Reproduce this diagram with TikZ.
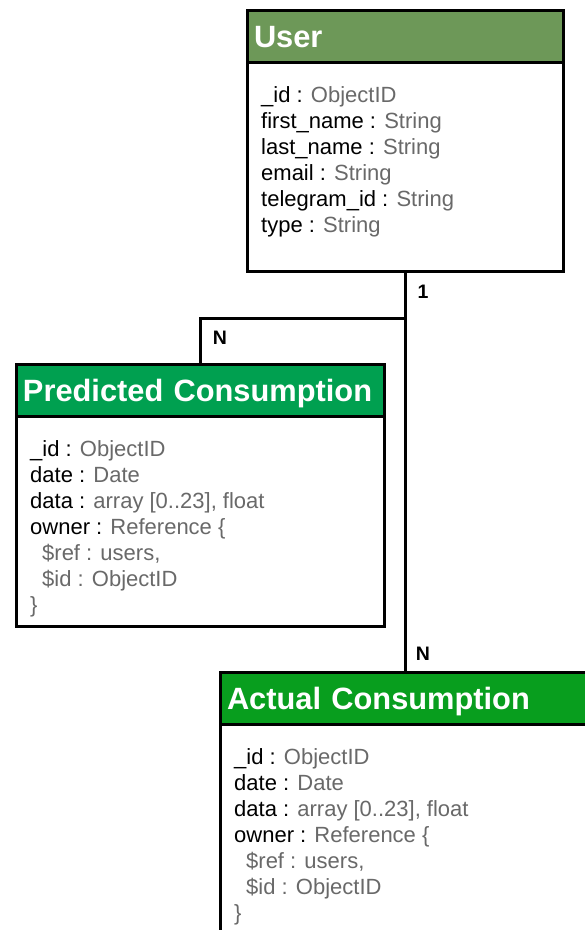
\documentclass[tikz,border=0pt]{standalone}
\usepackage{fontspec}
\setmainfont{Liberation Sans}
\usetikzlibrary{positioning}

\definecolor{usergreen}{RGB}{109,152,88}
\definecolor{predgreen}{RGB}{0,160,80}
\definecolor{actgreen}{RGB}{8,158,30}
\definecolor{typegrey}{RGB}{105,105,105}

\tikzset{
  header/.style={draw, line width=3pt, anchor=north west, inner xsep=7pt, inner ysep=0pt,
    outer sep=0pt, text=white, font=\fontsize{30.8}{34}\selectfont\bfseries,
    text height=22pt, text depth=0pt, align=left, minimum height=52pt},
  body/.style={draw, line width=3pt, anchor=north west, fill=white, inner sep=0pt, outer sep=0pt},
  attrs/.style={anchor=north west, inner sep=0pt, align=left, font=\fontsize{22}{26}\selectfont},
  link/.style={line width=3pt},
  card/.style={font=\fontsize{19.5}{21}\selectfont\bfseries, inner sep=0pt}
}
\newcommand{\attr}[2]{#1 : \textcolor{typegrey}{#2}}

\begin{document}
\begin{tikzpicture}[x=1pt,y=-1pt]
\useasboundingbox (0,0) rectangle (585,930);
\clip (0,0) rectangle (585,930);

% User collection
\node[header, fill=usergreen, text width=302pt] (userhdr) at (247,10) {User};
\node[body, minimum width=316pt, minimum height=209pt] (userbody) at (userhdr.south west) {};
\node[attrs] (userattrs) at ([xshift=14pt,yshift=-24.5pt]userbody.north west)
  {\attr{\_id}{ObjectID}\\ \attr{first\_name}{String}\\ \attr{last\_name}{String}\\
   \attr{email}{String}\\ \attr{telegram\_id}{String}\\ \attr{type}{String}};

% Predicted consumption collection
\node[header, fill=predgreen, text width=354pt] (predhdr) at (16,364) {Predicted Consumption};
\node[body, minimum width=368pt, minimum height=210pt] (predbody) at (predhdr.south west) {};
\node[attrs] (predattrs) at ([xshift=14pt,yshift=-24.5pt]predbody.north west)
  {\attr{\_id}{ObjectID}\\ \attr{date}{Date}\\ \attr{data}{array [0..23], float}\\
   \attr{owner}{Reference \{}\\
   \hspace*{12pt}\textcolor{typegrey}{\$ref : users,}\\
   \hspace*{12pt}\textcolor{typegrey}{\$id : ObjectID}\\
   \textcolor{typegrey}{\}}};

% Actual consumption collection
\node[header, fill=actgreen, text width=406pt] (acthdr) at (220,672) {Actual Consumption};
\node[body, minimum width=420pt, minimum height=260pt] (actbody) at (acthdr.south west) {};
\node[attrs] (actattrs) at ([xshift=14pt,yshift=-24.5pt]actbody.north west)
  {\attr{\_id}{ObjectID}\\ \attr{date}{Date}\\ \attr{data}{array [0..23], float}\\
   \attr{owner}{Reference \{}\\
   \hspace*{12pt}\textcolor{typegrey}{\$ref : users,}\\
   \hspace*{12pt}\textcolor{typegrey}{\$id : ObjectID}\\
   \textcolor{typegrey}{\}}};

% Relations
\path (userbody.south) ++(0,47) coordinate (split);
\draw[link] (userbody.south) -- (userbody.south |- acthdr.north);
\draw[link] (split) -| (predhdr.north);

% Cardinalities
\node[card] (usercard) at (423,292) {1};
\node[card] (predcard) at (220,338) {N};
\node[card] (actcard) at (423,654) {N};
\end{tikzpicture}
\end{document}
